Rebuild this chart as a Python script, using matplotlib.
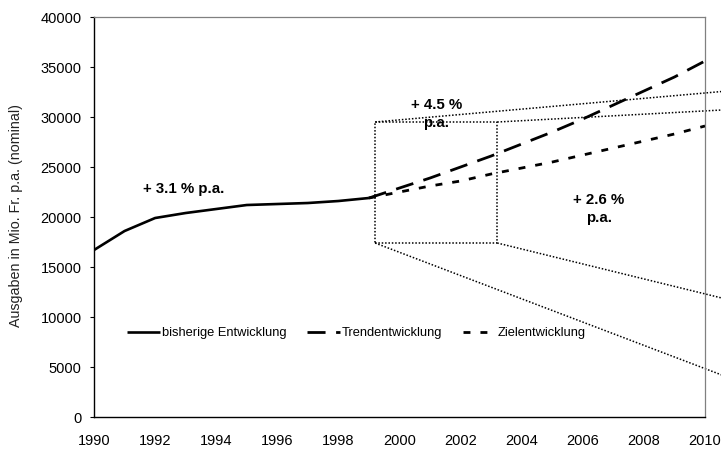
import matplotlib
matplotlib.use('Agg')
from matplotlib import pyplot as plt

plt.rcParams['font.family'] = ['Liberation Sans', 'DejaVu Sans']

# bisherige Entwicklung 1990-1999
years_hist = [1990, 1991, 1992, 1993, 1994, 1995, 1996, 1997, 1998, 1999]
hist = [16700, 18600, 19900, 20400, 20800, 21200, 21300, 21400, 21600, 21900]

# projections 1999-2010
years_proj = [1999, 2000, 2001, 2002, 2003, 2004, 2005, 2006, 2007, 2008, 2009, 2010]
trend = [21900, 22900, 23900, 25000, 26100, 27300, 28500, 29800, 31200, 32600, 34000, 35600]
ziel = [21900, 22500, 23100, 23600, 24300, 24900, 25500, 26200, 26900, 27600, 28300, 29100]

# dotted zoom box and its rays
box_x = [1999.2, 2003.2]
box_y = [17400, 29500]
ray_end_x = 2010.55
ray_end_y = [32550, 30700, 11900, 4200]   # from TL, TR, BR, BL corners

xticks = list(range(1990, 2011, 2))
yticks = list(range(0, 40001, 5000))

fig = plt.figure(figsize=(7.21, 4.5), dpi=100)
ax = fig.add_axes([0.1304, 0.0733, 0.8474, 0.8889])

ax.plot(years_hist, hist, '-', color='black', lw=1.9, label='bisherige Entwicklung',
        solid_capstyle='butt', zorder=3)
ax.plot(years_proj, trend, color='black', lw=2.0, linestyle=(0, (6.5, 3.8)),
        label='Trendentwicklung', zorder=3)
ax.plot(years_proj, ziel, color='black', lw=2.0, linestyle=(0, (2.5, 3.6)),
        label='Zielentwicklung', zorder=3)

dot = dict(color='black', lw=1.1, linestyle=(0, (1, 1.2)))
x0, x1 = box_x
y0, y1 = box_y
ax.plot([x0, x1, x1, x0, x0], [y0, y0, y1, y1, y0], **dot)
ax.plot([x0, ray_end_x], [y1, ray_end_y[0]], clip_on=False, **dot)
ax.plot([x1, ray_end_x], [y1, ray_end_y[1]], clip_on=False, **dot)
ax.plot([x1, ray_end_x], [y0, ray_end_y[2]], clip_on=False, **dot)
ax.plot([x0, ray_end_x], [y0, ray_end_y[3]], clip_on=False, **dot)

ax.text(1991.6, 22800, '+ 3.1 % p.a.', fontsize=10.8, fontweight='bold',
        ha='left', va='center')
ax.text(2001.2, 30300, '+ 4.5 %\np.a.', fontsize=10.8, fontweight='bold',
        ha='center', va='center', linespacing=1.45)
ax.text(2006.53, 20800, '+ 2.6 %\np.a.', fontsize=10.8, fontweight='bold',
        ha='center', va='center', linespacing=1.45)

ax.set_xlim(1990, 2010)
ax.set_ylim(0, 40000)
ax.set_xticks(xticks)
ax.set_yticks(yticks)
ax.tick_params(axis='x', length=0, pad=12, labelsize=10.5)
ax.tick_params(axis='y', length=3, width=0.8, pad=6, labelsize=10.5)

ax.set_ylabel('Ausgaben in Mio. Fr. p.a. (nominal)', fontsize=10.3, color='#222222')
ax.yaxis.set_label_coords(-0.117, 0.505)

for s in ['top', 'right']:
    ax.spines[s].set_color('#808080')
    ax.spines[s].set_linewidth(0.9)
for s in ['left', 'bottom']:
    ax.spines[s].set_color('black')
    ax.spines[s].set_linewidth(1.0)

ax.legend(loc='center left', bbox_to_anchor=(0.045, 0.21), ncol=3, frameon=False,
          fontsize=9.3, handlelength=2.55, handletextpad=0.15, columnspacing=1.6,
          borderaxespad=0)

plt.savefig('out.png', dpi=100)
